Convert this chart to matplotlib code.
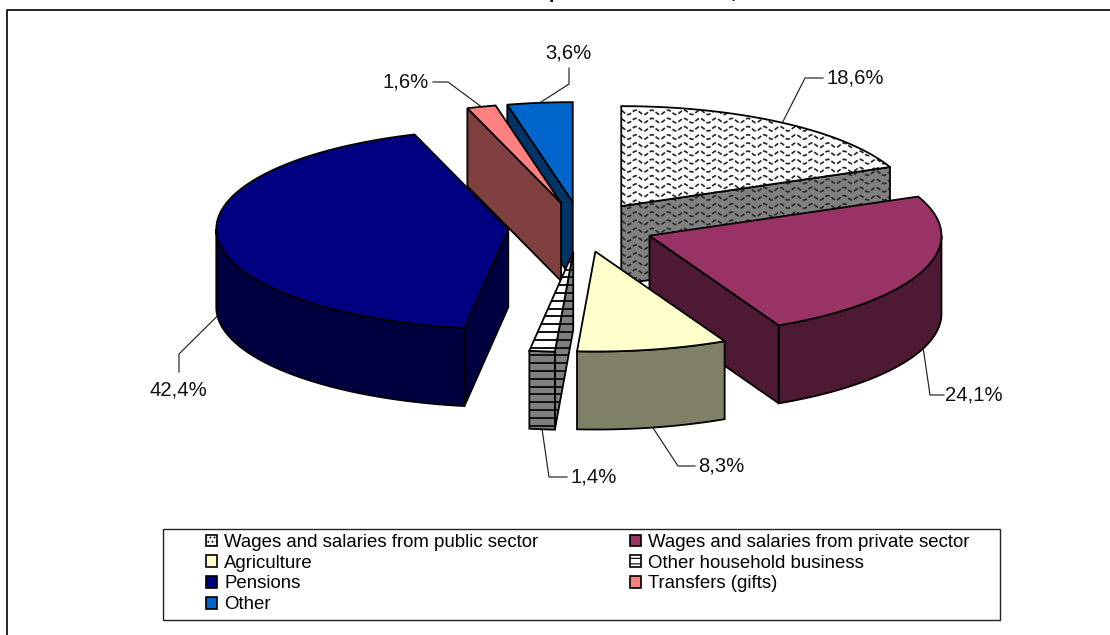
import numpy as np
import matplotlib
matplotlib.use('Agg')
from matplotlib import pyplot as plt
from matplotlib.patches import Polygon, Patch, Rectangle

plt.rcParams['font.family'] = ['Liberation Sans', 'DejaVu Sans']
plt.rcParams['hatch.linewidth'] = 0.8

# income shares, clockwise from 12 o'clock
categories = ['Wages and salaries from public sector', 'Wages and salaries from private sector',
              'Agriculture', 'Other household business', 'Pensions', 'Transfers (gifts)', 'Other']
shares = [18.6, 24.1, 8.3, 1.4, 42.4, 1.6, 3.6]
value_labels = ['18,6%', '24,1%', '8,3%', '1,4%', '42,4%', '1,6%', '3,6%']

top_colors = ['#FFFFFF', '#993366', '#FFFFCC', '#FFFFFF', '#000080', '#FF8080', '#0066CC']
side_colors = ['#808080', '#4D1933', '#808066', '#808080', '#000040', '#804040', '#003366']

# pie geometry in pixels
cx, cy = 581, 227
rx, ry = 292, 100
depth = 78
explode = 0.25

# elbow of each leader line, then the label position
elbows = [(805, 78), (930, 395), (678, 466), (549, 477), (179, 354), (448, 82), (569, 84)]
ends = [(823, 78), (944, 395), (695, 466), (567, 477), (179, 372), (433, 82), (569, 68)]
label_pos = [(826, 78), (945, 395), (698, 466), (571, 477), (150, 390), (382, 82), (545, 53)]

draw_order = [0, 6, 5, 4, 1, 2, 3]

edges = np.concatenate([[0], np.cumsum(shares)]) / np.sum(shares) * 2 * np.pi

fig = plt.figure(figsize=(11.1, 6.35), dpi=100)
ax = fig.add_axes([0, 0, 1, 1])
ax.set_xlim(0, 1110)
ax.set_ylim(635, 0)
ax.axis('off')


def rim(x0, y0, a, b, dy=0):
    t = np.linspace(a, b, max(int(abs(b - a) * 60), 2))
    return np.column_stack([x0 + rx * np.sin(t), y0 - ry * np.cos(t) + dy])


def waves(patch):
    for y in np.arange(patch.get_xy()[:, 1].min() - 2, patch.get_xy()[:, 1].max() + 8, 8.2):
        xs = np.arange(610, 900, 1.0)
        l, = ax.plot(xs, y + 2.2 * np.sin(xs * 2 * np.pi / 16), color='#2A2A2A', lw=1.25,
                     dashes=(2.6, 1.2), zorder=patch.get_zorder())
        l.set_clip_path(patch)


def stripes(patch):
    xy = patch.get_xy()
    for y in np.arange(254, xy[:, 1].max() + 8, 7.8):
        l, = ax.plot([xy[:, 0].min(), xy[:, 0].max()], [y, y], color='#111111', lw=1.4,
                     zorder=patch.get_zorder())
        l.set_clip_path(patch)


z = 2
for i in draw_order:
    a, b = edges[i], edges[i + 1]
    mid = (a + b) / 2
    x0 = cx + explode * rx * np.sin(mid)
    y0 = cy - explode * ry * np.cos(mid)
    apex = np.array([[x0, y0]])
    faces = []
    # visible cut faces and the front part of the rim
    if np.pi < a < 2 * np.pi:
        e = rim(x0, y0, a, a)[:1]
        faces.append(np.vstack([apex, e, e + [0, depth], apex + [0, depth]]))
    if 0 < b < np.pi:
        e = rim(x0, y0, b, b)[:1]
        faces.append(np.vstack([apex, e, e + [0, depth], apex + [0, depth]]))
    lo, hi = max(a, np.pi / 2), min(b, 3 * np.pi / 2)
    if lo < hi:
        faces.append(np.vstack([rim(x0, y0, lo, hi), rim(x0, y0, hi, lo, depth)]))
    for f in faces:
        p = Polygon(f, closed=True, facecolor=side_colors[i], edgecolor='none', zorder=z)
        ax.add_patch(p)
        if i == 0:
            waves(p)
        if i == 3:
            stripes(p)
        ax.add_patch(Polygon(f, closed=True, fill=False, edgecolor='black', lw=1.3, zorder=z + 0.5))
    top = np.vstack([apex, rim(x0, y0, a, b)])
    p = Polygon(top, closed=True, facecolor=top_colors[i], edgecolor='none', zorder=z + 1)
    ax.add_patch(p)
    if i == 0:
        waves(p)
    if i == 3:
        stripes(p)
    ax.add_patch(Polygon(top, closed=True, fill=False, edgecolor='black', lw=1.3, zorder=z + 1.5))

    # leader line from the rim (bottom edge when the slice is at the front)
    anchor = rim(x0, y0, mid, mid)[0]
    if np.pi / 2 < mid < 3 * np.pi / 2:
        anchor = anchor + [0, depth]
    ax.plot([anchor[0], elbows[i][0], ends[i][0]], [anchor[1], elbows[i][1], ends[i][1]],
            color='#222222', lw=0.85, zorder=30)
    ax.text(label_pos[i][0], label_pos[i][1], value_labels[i], fontsize=14.6, ha='left', va='center',
            color='#111111', zorder=31)
    z += 2

# chart area border: only the top and left sides fall inside the picture
ax.plot([7, 7, 1110], [635, 10, 10], color='black', lw=1.2, clip_on=False, zorder=1)

# title is cut off by the top edge, only the descenders are left
ax.text(549, -2, 'p', fontsize=14, fontweight='bold', va='baseline', ha='left')
ax.text(731, -2, ',', fontsize=14, fontweight='bold', va='baseline', ha='left')

# legend box
ax.add_patch(Rectangle((163, 529), 837, 91, facecolor='white', edgecolor='#222222', lw=1.0, zorder=1))
handles = {}
for i, c in enumerate(categories):
    hatch = {0: '....', 3: '---'}.get(i)
    handles[c] = Patch(facecolor=top_colors[i], edgecolor='black', lw=1.2, hatch=hatch, label=c)
legend_order = [0, 2, 4, 6, 1, 3, 5]
leg = ax.legend([handles[categories[i]] for i in legend_order], [categories[i] for i in legend_order],
                ncols=2, loc='upper left', bbox_to_anchor=(206, 534), bbox_transform=ax.transData,
                frameon=False, fontsize=13.4, handlelength=0.6, handleheight=0.6, handletextpad=0.38,
                labelspacing=0.2, columnspacing=4.9, borderpad=0, borderaxespad=0)
leg.set_zorder(40)

plt.savefig('out.png', dpi=100)
